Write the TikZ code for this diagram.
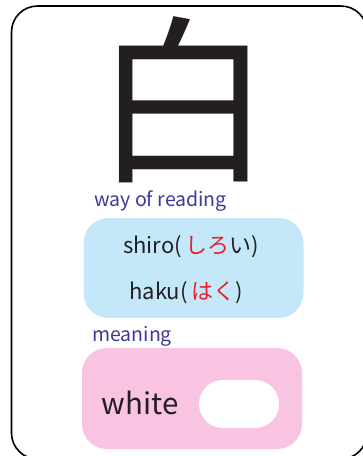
\documentclass[tikz,border=0pt]{standalone}
\usepackage{fontspec}
\setmainfont{Noto Sans CJK JP}
\definecolor{readblue}{RGB}{196,232,250}
\definecolor{meanpink}{RGB}{248,196,226}
\definecolor{labelblue}{RGB}{60,58,150}
\definecolor{kanared}{RGB}{232,32,40}
\definecolor{inkgrey}{RGB}{35,31,32}
\begin{document}
\begin{tikzpicture}[x=1pt,y=-1pt,
  panel/.style={rounded corners=25pt, inner sep=0pt, minimum width=220pt},
  tag/.style={anchor=west, inner sep=0pt, text=labelblue, font=\fontsize{19.5}{19.5}\selectfont},
  reading/.style={inner sep=0pt, text=inkgrey, font=\fontsize{22}{22}\selectfont}]
\useasboundingbox (0,0) rectangle (363,456);
% card
\draw [line width=1.6pt, rounded corners=26pt] (11.5,6) rectangle (367,459);
% the kanji
\node (kanji) [inner sep=0pt, text=inkgrey] at (183,100) {\fontsize{180}{180}\selectfont 白};
% readings
\node (readlabel) [tag] at (94,201) {way of reading};
\node (readbox) [panel, fill=readblue, minimum height=100pt] at (193.5,268) {};
\node (onyomi) [reading] at (191,247) {shiro(\,\textcolor{kanared}{しろ}い)};
\node (kunyomi) [reading] at (186,293) {haku(\,\textcolor{kanared}{はく})};
% meaning
\node (meanlabel) [tag] at (92,336) {meaning};
\node (meanbox) [panel, fill=meanpink, minimum height=101pt] at (192,398.5) {};
\node (word) [inner sep=0pt, text=inkgrey, font=\fontsize{29.5}{29.5}\selectfont] at (140,403) {white};
\node (blank) [fill=white, rounded corners=24pt, inner sep=0pt, minimum width=80pt, minimum height=48pt] at (239,404) {};
\end{tikzpicture}
\end{document}
